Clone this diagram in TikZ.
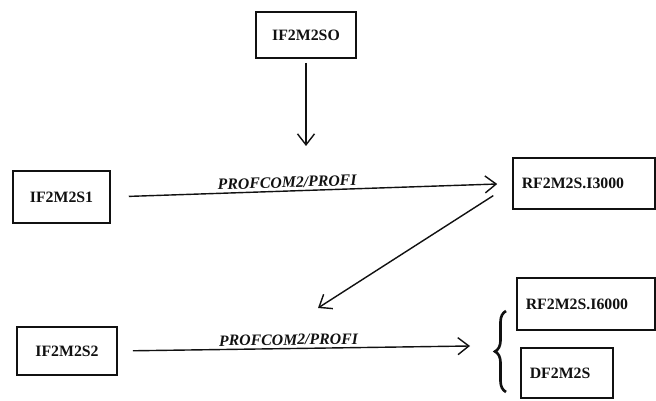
\documentclass[tikz,border=0pt]{standalone}
\usepackage{fontspec}
\setmainfont{Liberation Serif}
\usepackage{xcolor}
\usepackage{tikz}
\usetikzlibrary{arrows.meta,positioning,decorations.pathreplacing}
\definecolor{ink}{HTML}{111111}
\tikzset{
  box/.style   ={draw=ink,line width=0.9pt,inner xsep=5pt,inner ysep=2pt,
                 font=\fontsize{9}{10}\selectfont\bfseries,text=ink},
  flow/.style  ={-{Straight Barb[length=2.2mm,width=3.4mm]},line width=0.8pt,draw=ink},
  proto/.style ={font=\fontsize{9}{10}\selectfont\bfseries\itshape,text=ink,inner sep=1.5pt},
  bracket/.style={decorate,decoration={brace,amplitude=2.2mm},line width=1.5pt,draw=ink}
}
\begin{document}
\begin{tikzpicture}[x=0.02cm,y=-0.02cm]
    \useasboundingbox (0,0) rectangle (656,401);
    \node[box,text width=2.0cm-10pt,minimum height=0.92cm,align=center] (so) at (306,35) {IF2M2SO};
    \node[box,text width=1.94cm-10pt,minimum height=1.04cm,align=center] (s1) at (61.5,197) {IF2M2S1};
    \node[box,text width=2.0cm-10pt,minimum height=0.96cm,align=center] (s2) at (67,351) {IF2M2S2};
    \node[box,text width=2.84cm-10pt,minimum height=1.02cm,align=left] (r13) at (584,183.5) {RF2M2S.I3000};
    \node[box,text width=2.76cm-10pt,minimum height=1.04cm,align=left] (r16) at (586,304) {RF2M2S.I6000};
    \node[box,text width=1.84cm-10pt,minimum height=1.0cm,align=left] (df) at (567,373) {DF2M2S};
    \coordinate (drop) at (306,146);
    \coordinate (turn) at (318,308);
    \coordinate (fork) at (470,346);
    \draw[flow,shorten <=0.08cm] (so) -- (drop);
    \draw[flow,shorten <=3.6mm,shorten >=3mm] (s1.east) -- node[proto,above,sloped,pos=0.44] {PROFCOM2/PROFI} (r13.west);
    \draw[flow,shorten <=4.5mm] (r13.west) -- (turn);
    \draw[flow,shorten <=3mm] (s2.east) -- node[proto,above,sloped,pos=0.485] {PROFCOM2/PROFI} (fork);
    \draw[bracket] (506,392) -- (506,311);
  \end{tikzpicture}
\end{document}
